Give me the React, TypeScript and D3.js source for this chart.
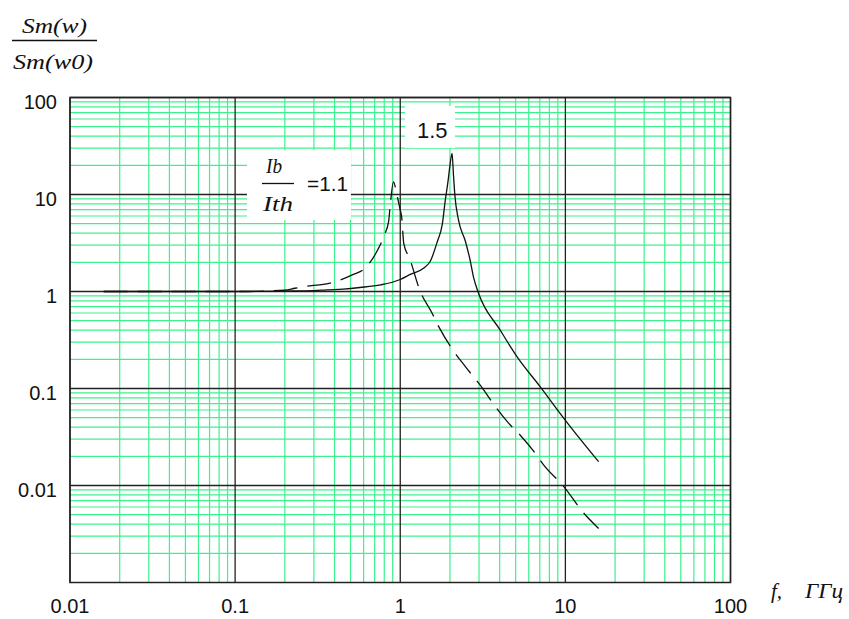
import React from "react";
import * as d3 from "d3";

// frequency axis, GHz
const xTickValues = [0.01, 0.1, 1, 10, 100];
const xTickLabels = ["0.01", "0.1", "1", "10", "100"];
// normalised response axis
const yTickValues = [100, 10, 1, 0.1, 0.01];
const yTickLabels = ["100", "10", "1", "0.1", "0.01"];

// Ib/Ith = 1.5 (solid)
const solidF = [0.016, 0.05, 0.1, 0.2, 0.3, 0.36, 0.45, 0.57, 0.76, 1.0, 1.15, 1.39, 1.52, 1.68, 1.8, 1.87, 1.95, 2.0, 2.06, 2.1, 2.14, 2.25, 2.48, 2.65, 2.78, 2.98, 4.03, 5.09, 7.05, 10, 15.9];
const solidV = [1.0, 1.0, 1.0, 1.01, 1.02, 1.04, 1.06, 1.1, 1.17, 1.33, 1.5, 1.75, 2.05, 3.3, 5.0, 8.5, 14, 20, 26.6, 16, 10, 5.5, 3.3, 2.1, 1.4, 0.96, 0.4, 0.213, 0.104, 0.047, 0.0176];

// Ib/Ith = 1.1 (dashed)
const dashF = [0.016, 0.1, 0.2, 0.23, 0.29, 0.35, 0.43, 0.52, 0.61, 0.72, 0.8, 0.85, 0.87, 0.91, 0.95, 1.0, 1.02, 1.05, 1.15, 1.2, 1.29, 1.56, 1.71, 2.15, 2.48, 3.2, 3.59, 4.53, 5.33, 6.57, 7.38, 9.76, 12.9, 15.9];
const dashV = [1.0, 1.0, 1.03, 1.08, 1.15, 1.19, 1.31, 1.5, 1.73, 2.57, 3.8, 5.25, 7.8, 13.5, 10.3, 6.9, 5.9, 3.14, 2.11, 1.67, 1.12, 0.596, 0.434, 0.231, 0.168, 0.097, 0.073, 0.044, 0.033, 0.0215, 0.0163, 0.0098, 0.0052, 0.0036];

const W = 849;
const H = 619;
const left = 70, right = 730.5, top = 97.5, bottom = 582.5;
const grid = "#3cf28e";

export default function App() {
  const x = d3.scaleLog().domain([0.01, 100]).range([left, right]);
  const y = d3.scaleLog().domain([0.001, 100]).range([bottom, top]);

  const minorX: number[] = [];
  [0.01, 0.1, 1, 10].forEach((d) => {
    for (let k = 2; k <= 9; k++) minorX.push(d * k);
  });
  const minorY: number[] = [];
  [0.001, 0.01, 0.1, 1, 10].forEach((d) => {
    for (let k = 2; k <= 9; k++) minorY.push(d * k);
  });

  const line = d3
    .line<[number, number]>()
    .x((d) => x(d[0]))
    .y((d) => y(d[1]))
    .curve(d3.curveMonotoneX);

  const solid = line(solidF.map((f, i) => [f, solidV[i]]));
  const dashed = line(dashF.map((f, i) => [f, dashV[i]]));

  const serif = "'Liberation Serif', 'Times New Roman', serif";
  const sans = "'Liberation Sans', Arial, sans-serif";

  return (
    <svg width={W} height={H} style={{ position: "absolute", left: 0, top: 0, background: "#fff" }}>
      {/* minor grid */}
      {minorX.map((v) => (
        <line key={"mx" + v} x1={x(v)} x2={x(v)} y1={top} y2={bottom} stroke={grid} strokeWidth={1.2} />
      ))}
      {minorY.map((v) => (
        <line key={"my" + v} x1={left} x2={right} y1={y(v)} y2={y(v)} stroke={grid} strokeWidth={1.2} />
      ))}
      {/* decade lines */}
      {xTickValues.map((v) => (
        <line key={"X" + v} x1={x(v)} x2={x(v)} y1={top} y2={bottom} stroke="#222" strokeWidth={1.3} />
      ))}
      {yTickValues.map((v) => (
        <line key={"Y" + v} x1={left} x2={right} y1={y(v)} y2={y(v)} stroke="#222" strokeWidth={1.3} />
      ))}
      <rect x={left} y={top} width={right - left} height={bottom - top} fill="none" stroke="#222" strokeWidth={1.5} />

      {/* label boxes */}
      <rect x={247} y={150} width={104} height={70} fill="#fff" />
      <rect x={405} y={106} width={50} height={42} fill="#fff" />

      <path d={solid ?? ""} fill="none" stroke="#111" strokeWidth={1.3} />
      <path d={dashed ?? ""} fill="none" stroke="#111" strokeWidth={1.3} strokeDasharray="24,10" />

      {/* tick labels */}
      {xTickValues.map((v, i) => (
        <text key={"xl" + v} x={x(v)} y={613} textAnchor="middle" fontFamily={sans} fontSize={20} fill="#111">
          {xTickLabels[i]}
        </text>
      ))}
      {yTickValues.map((v, i) => (
        <text key={"yl" + v} x={57} y={y(v) + 11} textAnchor="end" fontFamily={sans} fontSize={20} fill="#111">
          {yTickLabels[i]}
        </text>
      ))}

      {/* y title */}
      <text x={22} y={33} fontFamily={serif} fontStyle="italic" fontSize={22} textLength={65} lengthAdjust="spacingAndGlyphs" fill="#111">
        Sm(w)
      </text>
      <line x1={12} x2={97} y1={40.5} y2={40.5} stroke="#111" strokeWidth={1.5} />
      <text x={13} y={69} fontFamily={serif} fontStyle="italic" fontSize={22} textLength={80} lengthAdjust="spacingAndGlyphs" fill="#111">
        Sm(w0)
      </text>

      {/* x title */}
      <text x={771} y={598} fontFamily={serif} fontStyle="italic" fontSize={21} fill="#111">
        f,
      </text>
      <text x={805} y={598} fontFamily={serif} fontStyle="italic" fontSize={21} textLength={38} lengthAdjust="spacingAndGlyphs" fill="#111">
        ГГц
      </text>

      {/* curve labels */}
      <text x={266} y={173} fontFamily={serif} fontStyle="italic" fontSize={21} textLength={16} lengthAdjust="spacingAndGlyphs" fill="#111">
        Ib
      </text>
      <line x1={262} x2={294} y1={183.5} y2={183.5} stroke="#111" strokeWidth={1.3} />
      <text x={263} y={211} fontFamily={serif} fontStyle="italic" fontSize={21} textLength={30} lengthAdjust="spacingAndGlyphs" fill="#111">
        Ith
      </text>
      <text x={307} y={191} fontFamily={sans} fontSize={20} textLength={41} lengthAdjust="spacingAndGlyphs" fill="#111">
        =1.1
      </text>
      <text x={417} y={138} fontFamily={sans} fontSize={22} fill="#111">
        1.5
      </text>
    </svg>
  );
}
